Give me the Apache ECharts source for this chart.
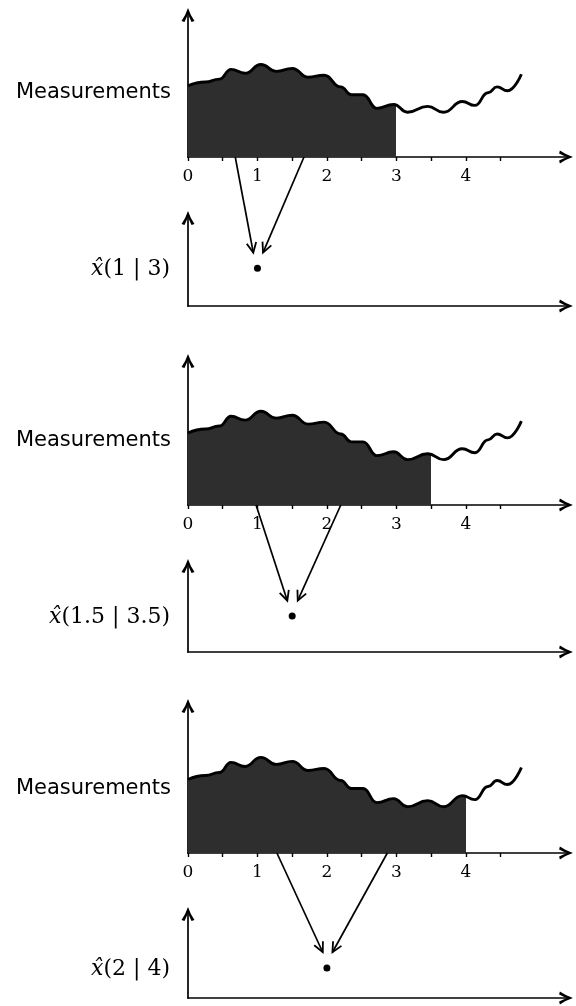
<!DOCTYPE html>
<html><head><meta charset="utf-8">
<script src="https://cdn.jsdelivr.net/npm/echarts@6/dist/echarts.min.js"></script>
<style>html,body{margin:0;padding:0;background:#fff}#c{width:576px;height:1006px}</style>
</head><body><div id="c"></div>
<script>
// measurement curve (x in time units, height in arbitrary units)
const curveX = [0,0.25,0.45,0.62,0.82,1.05,1.27,1.5,1.73,1.96,2.2,2.35,2.52,2.72,2.96,3.16,3.45,3.68,3.95,4.13,4.32,4.45,4.6,4.8];
const curveY = [73,77,80,90,86,95,88,91,82,84,72,64,64,50,54,46,52,46,57,53,66,72,68,85];
// measurements available up to
const lagEnd = [3, 3.5, 4];
// smoothed estimate points
const estX = [1, 1.5, 2];
const estY = [41, 40, 34];
const estLabels = ['1 | 3', '1.5 | 3.5', '2 | 4'];
// arrows: from measurement axis to estimate
const arrowFromL = [0.68, 0.98, 1.28];
const arrowFromR = [1.67, 2.2, 2.87];
const arrowToL = [0.94, 1.43, 1.94];
const arrowToR = [1.08, 1.58, 2.08];
const arrowToY = [58, 57, 52];
// axis ticks / labels
const tickVals = [0,0.5,1,1.5,2,2.5,3,3.5,4,4.5];
const labelVals = [0,1,2,3,4];

const chart = echarts.init(document.getElementById('c'), null, {renderer:'canvas'});
const arrowPath = 'path://M5,0 Q6.6,5 10,10 L7.7,10.6 Q5.8,7 5,4.4 Q4.2,7 2.3,10.6 L0,10 Q3.4,5 5,0 Z';
const LEFT = 188, WIDTH = 382;
const mTops = [11, 357, 702], mHeights = [146, 148, 151];
const eTops = [214, 562, 910], eHeights = [92, 90, 88];

const grids = [], xAxes = [], yAxes = [], series = [];
const axisLine = {show:true, lineStyle:{color:'#000', width:1.7}, symbol:['none', arrowPath], symbolSize:[13,14], symbolOffset:[0,-4]};
const curveData = curveX.map((x,i)=>[x, curveY[i]]);
for (let i = 0; i < 3; i++) {
  grids.push({left:LEFT, width:WIDTH, top:mTops[i], height:mHeights[i]});
  grids.push({left:LEFT, width:WIDTH, top:eTops[i], height:eHeights[i]});
  const m = 2*i, e = 2*i+1;
  xAxes.push({type:'value', gridIndex:m, min:0, max:5.5, axisLine:axisLine,
    axisTick:{show:true, customValues:tickVals, length:4, lineStyle:{color:'#000', width:1.4}},
    axisLabel:{show:true, customValues:labelVals, fontFamily:'DejaVu Serif', fontSize:17, color:'#000', margin:11},
    splitLine:{show:false}});
  xAxes.push({type:'value', gridIndex:e, min:0, max:5.5, axisLine:axisLine,
    axisTick:{show:false}, axisLabel:{show:false}, splitLine:{show:false}});
  yAxes.push({type:'value', gridIndex:m, min:0, max:150, axisLine:axisLine,
    axisTick:{show:false}, axisLabel:{show:false}, splitLine:{show:false}});
  yAxes.push({type:'value', gridIndex:e, min:0, max:100, axisLine:axisLine,
    axisTick:{show:false}, axisLabel:{show:false}, splitLine:{show:false}});
  const f = (lagEnd[i]-curveX[0])/(curveX[curveX.length-1]-curveX[0]);
  series.push({type:'line', xAxisIndex:m, yAxisIndex:m, data:curveData, smooth:0.5, smoothMonotone:'x',
    showSymbol:false, silent:true, clip:false, z:3,
    lineStyle:{color:'#000', width:2.9},
    areaStyle:{opacity:1, color:new echarts.graphic.LinearGradient(0,0,1,0,[
      {offset:0, color:'#2e2e2e'},{offset:f, color:'#2e2e2e'},
      {offset:f, color:'rgba(255,255,255,0)'},{offset:1, color:'rgba(255,255,255,0)'}])}});
  series.push({type:'scatter', xAxisIndex:e, yAxisIndex:e, data:[[estX[i], estY[i]]],
    symbolSize:7, itemStyle:{color:'#000', opacity:1}, silent:true});
}
chart.setOption({animation:false, backgroundColor:'#fff', grid:grids, xAxis:xAxes, yAxis:yAxes, series:series});

const g = [];
function arrow(p0, p1) {
  const dx = p1[0]-p0[0], dy = p1[1]-p0[1], L = Math.hypot(dx,dy);
  const ux = dx/L, uy = dy/L, len = 11, a = 0.45;
  const b = s => [p1[0] - len*(ux*Math.cos(a) - s*uy*Math.sin(a)), p1[1] - len*(uy*Math.cos(a) + s*ux*Math.sin(a))];
  g.push({type:'line', shape:{x1:p0[0], y1:p0[1], x2:p1[0], y2:p1[1]}, style:{stroke:'#000', lineWidth:1.7}, z:10});
  g.push({type:'polyline', shape:{points:[b(1), p1, b(-1)]}, style:{stroke:'#000', lineWidth:1.8, fill:null}, z:10});
}
for (let i = 0; i < 3; i++) {
  const m = 2*i, e = 2*i+1;
  arrow(chart.convertToPixel({gridIndex:m}, [arrowFromL[i], 0]), chart.convertToPixel({gridIndex:e}, [arrowToL[i], arrowToY[i]]));
  arrow(chart.convertToPixel({gridIndex:m}, [arrowFromR[i], 0]), chart.convertToPixel({gridIndex:e}, [arrowToR[i], arrowToY[i]]));
  const axisY = chart.convertToPixel({gridIndex:m}, [0, 0])[1];
  g.push({type:'text', z:10, style:{text:'Measurements', x:171, y:axisY-64, align:'right', verticalAlign:'middle',
    fontFamily:'DejaVu Sans', fontSize:21, fill:'#000'}});
  const dotY = chart.convertToPixel({gridIndex:e}, [estX[i], estY[i]])[1];
  g.push({type:'text', z:10, style:{text:'{i|x\u0302}(' + estLabels[i] + ')', x:170, y:dotY+1, align:'right', verticalAlign:'middle',
    fontFamily:'DejaVu Serif', fontSize:22, fill:'#000',
    rich:{i:{fontStyle:'italic', fontFamily:'DejaVu Serif', fontSize:22, fill:'#000'}}}});
}
chart.setOption({graphic:g});
</script></body></html>
